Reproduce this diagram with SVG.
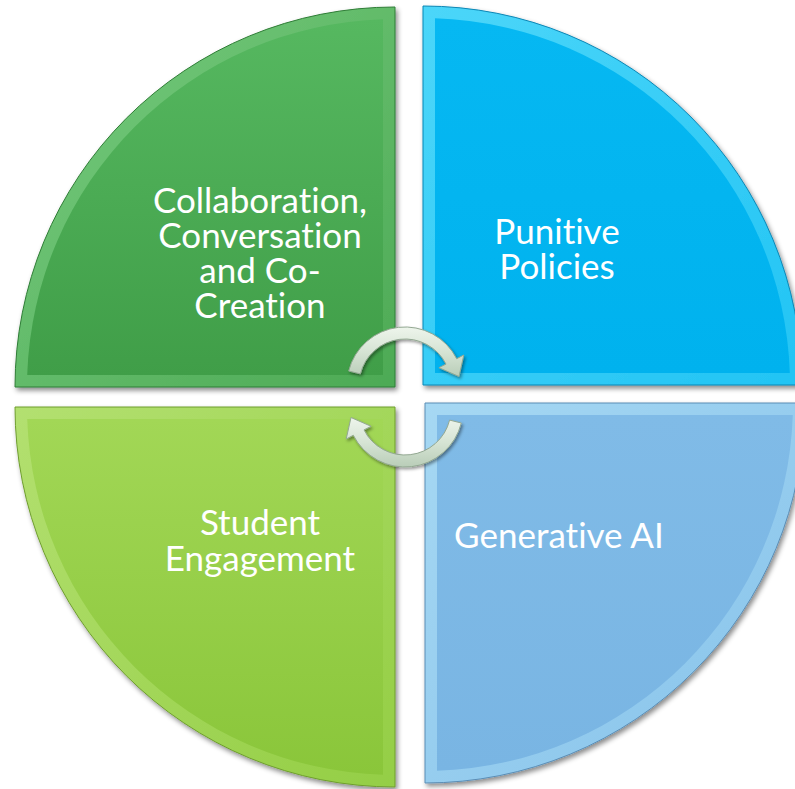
<svg xmlns="http://www.w3.org/2000/svg" width="795" height="789" viewBox="0 0 795 789">
  <defs>
    <filter id="shadow" x="-10%" y="-10%" width="130%" height="130%">
      <feDropShadow dx="2" dy="3" stdDeviation="2.5" flood-color="#000" flood-opacity="0.45"/>
    </filter>
    <filter id="ashadow" x="-20%" y="-20%" width="150%" height="150%">
      <feDropShadow dx="1.5" dy="2" stdDeviation="1.5" flood-color="#000" flood-opacity="0.4"/>
    </filter>
    <linearGradient id="gTL" x1="0" y1="0" x2="0" y2="1">
      <stop offset="0" stop-color="#56b860"/>
      <stop offset="1" stop-color="#409e48"/>
    </linearGradient>
    <linearGradient id="bTL" x1="0" y1="0" x2="1" y2="1">
      <stop offset="0" stop-color="#78cc7f"/>
      <stop offset="1" stop-color="#4daa55"/>
    </linearGradient>
    <linearGradient id="gTR" x1="0" y1="0" x2="0" y2="1">
      <stop offset="0" stop-color="#06b8f2"/>
      <stop offset="1" stop-color="#00b2ee"/>
    </linearGradient>
    <linearGradient id="bTR" x1="0" y1="0" x2="1" y2="1">
      <stop offset="0" stop-color="#4cd6f9"/>
      <stop offset="1" stop-color="#22c4f4"/>
    </linearGradient>
    <linearGradient id="gBL" x1="0" y1="0" x2="0" y2="1">
      <stop offset="0" stop-color="#a2d756"/>
      <stop offset="1" stop-color="#8ac63a"/>
    </linearGradient>
    <linearGradient id="bBL" x1="0" y1="0" x2="1" y2="1">
      <stop offset="0" stop-color="#b3e070"/>
      <stop offset="1" stop-color="#94ce45"/>
    </linearGradient>
    <linearGradient id="gBR" x1="0" y1="0" x2="0" y2="1">
      <stop offset="0" stop-color="#80bbe7"/>
      <stop offset="1" stop-color="#79b5e3"/>
    </linearGradient>
    <linearGradient id="bBR" x1="0" y1="0" x2="1" y2="1">
      <stop offset="0" stop-color="#a6d8f3"/>
      <stop offset="1" stop-color="#86c2ea"/>
    </linearGradient>
    <linearGradient id="gArrow" x1="0" y1="0" x2="0" y2="1">
      <stop offset="0" stop-color="#eef5ec"/>
      <stop offset="0.5" stop-color="#d6e4d4"/>
      <stop offset="1" stop-color="#b9cdb8"/>
    </linearGradient>
    <style>
      .lbl { font-family: Lato, "Open Sans", "Liberation Sans", sans-serif; font-size: 35px; fill: #ffffff; text-anchor: middle; font-variant-ligatures: none; font-feature-settings: "liga" 0; }
      .inner { stroke: none; }
      .arrow { fill: url(#gArrow); stroke: #93a892; stroke-width: 1; filter: url(#ashadow); }
    </style>
  </defs>

  <rect width="795" height="789" fill="#ffffff"/>

  <g id="node-collaboration">
    <path d="M395,387 L15,387 A380,380 0 0 1 395,7 Z" fill="url(#bTL)" stroke="#2f7d36" stroke-width="1" filter="url(#shadow)"/>
    <path class="inner" d="M383,375 L27.2,375 A368,368 0 0 1 383,19.2 Z" fill="url(#gTL)"/>
    <text class="lbl"><tspan x="260" y="213">Collaboration,</tspan><tspan x="260" y="248">Conversation</tspan><tspan x="260" y="283">and Co-</tspan><tspan x="260" y="318">Creation</tspan></text>
  </g>

  <g id="node-punitive">
    <path d="M423,385 L423,6 A379,379 0 0 1 802,385 Z" fill="url(#bTR)" stroke="#0a86b5" stroke-width="1" filter="url(#shadow)"/>
    <path class="inner" d="M435,373 L435,18.2 A367,367 0 0 1 789.8,373 Z" fill="url(#gTR)"/>
    <text class="lbl"><tspan x="557" y="244">Punitive</tspan><tspan x="557" y="279">Policies</tspan></text>
  </g>

  <g id="node-student">
    <path d="M395,407 L395,787 A380,380 0 0 1 15,407 Z" fill="url(#bBL)" stroke="#6f9e2f" stroke-width="1" filter="url(#shadow)"/>
    <path class="inner" d="M383,419 L383,774.8 A368,368 0 0 1 27.2,419 Z" fill="url(#gBL)"/>
    <text class="lbl"><tspan x="260" y="535">Student</tspan><tspan x="260" y="571">Engagement</tspan></text>
  </g>

  <g id="node-genai">
    <path d="M425,403 L805,403 A380,380 0 0 1 425,783 Z" fill="url(#bBR)" stroke="#5a8db5" stroke-width="1" filter="url(#shadow)"/>
    <path class="inner" d="M437,415 L792.8,415 A368,368 0 0 1 437,770.8 Z" fill="url(#gBR)"/>
    <text class="lbl" x="559" y="548">Generative AI</text>
  </g>

  <g id="connectors">
    <path class="arrow" d="M348.7,371 A58,58 0 0 1 456.7,358.7 L463.8,355 L459,376.5 L438.9,367.7 L446,364.1 A46,46 0 0 0 360.4,373.9 Z"/>
    <path class="arrow" d="M461.3,423 A58,58 0 0 1 353.3,435.3 L346.2,439 L351,417.5 L371.1,426.3 L364,429.9 A46,46 0 0 0 449.6,420.1 Z"/>
  </g>
</svg>
